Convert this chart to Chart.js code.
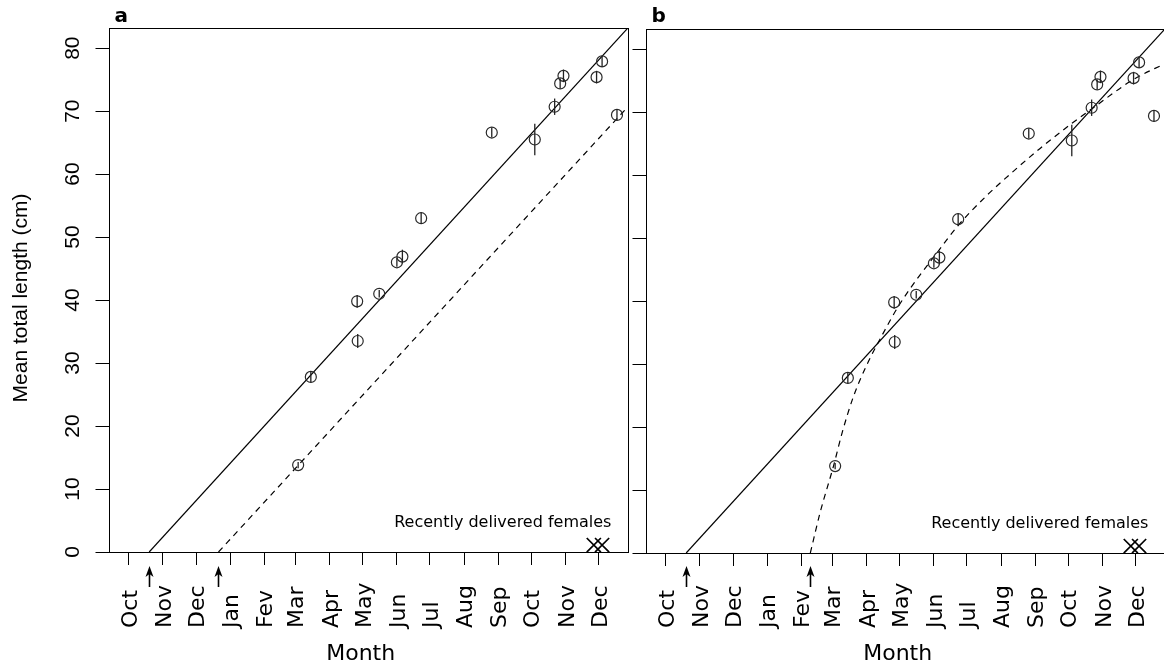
<!DOCTYPE html>
<html>
<head>
<meta charset="utf-8">
<script src="https://cdn.jsdelivr.net/npm/chart.js@4"></script>
<style>
    html, body { margin: 0; padding: 0; background: #fff; overflow: hidden; }
    #wrap { position: relative; width: 1164px; height: 666px; overflow: hidden; }
    canvas { position: absolute; top: 0; }
    #chartA { left: 0; }
    #chartB { left: 537px; }
</style>
</head>
<body>
<div id="wrap">
    <canvas id="chartA" width="640" height="666"></canvas>
    <canvas id="chartB" width="640" height="666"></canvas>
</div>
<script>
// x values are days counted from 1 October
const monthLabels = ["Oct", "Nov", "Dec", "Jan", "Fev", "Mar", "Apr", "May", "Jun", "Jul", "Aug", "Sep", "Oct", "Nov", "Dec"];
const monthDays = [0, 31, 61, 92, 123, 151, 182, 212, 243, 273, 304, 335, 365, 396, 426];
const yTicks = [0, 10, 20, 30, 40, 50, 60, 70, 80];

// mean total length of the samples (cm) and half error bar
const sampleDays = [153.5, 165, 207, 207.5, 227, 243, 248, 265, 329, 368, 386, 391, 394, 424, 429, 442.5];
const meanLength = [13.8, 27.8, 39.8, 33.5, 41.0, 46.0, 46.9, 53.0, 66.6, 65.5, 70.7, 74.4, 75.6, 75.4, 77.9, 69.4];
const lengthErr = [0.5, 0.9, 1.0, 1.1, 0.6, 0.7, 1.1, 0.9, 0.8, 2.5, 1.3, 0.8, 1.0, 1.0, 0.9, 0.9];

// recently delivered females
const deliveredDays = [421.5, 429];
const deliveredLength = [1.1, 1.1];

// fitted growth lines
const linearDays = [18.5, 452.4];
const linearLength = [0, 83.2];
const lateLinearDays = [81.3, 452.4];
const lateLinearLength = [0, 70.7];
const curveDays = [131, 140, 152, 160, 170, 182, 194, 212, 249, 265, 290, 315, 339, 368, 386, 424, 452.4];
const curveLength = [0, 6.5, 13.8, 19.2, 24.8, 29.8, 33.9, 39.5, 48.4, 52.0, 56.6, 60.6, 64.2, 68.2, 70.5, 75.2, 77.7];

// birth estimates (arrows under the axis)
const arrowDaysA = [18.5, 81.3];
const arrowDaysB = [18.5, 131];

const AXIS_W = 108.5;
const PLOT_W = 519.4;
const CANVAS_W = 640;
const CANVAS_H = 666;

function toPoints(xs, ys) {
    return xs.map((x, i) => ({ x: x, y: ys[i] }));
}

function buildDatasets(dashedDays, dashedLength) {
    return [
        {
            data: toPoints(sampleDays, meanLength),
            pointStyle: "circle",
            pointRadius: 5.5,
            borderColor: "#2a2a2a",
            backgroundColor: "rgba(0,0,0,0)",
            borderWidth: 1.2,
        },
        {
            data: toPoints(deliveredDays, deliveredLength),
            pointStyle: "crossRot",
            pointRadius: 10,
            borderColor: "#000",
            borderWidth: 1.7,
        },
        {
            data: toPoints(linearDays, linearLength),
            showLine: true,
            pointRadius: 0,
            borderColor: "#000",
            borderWidth: 1.2,
        },
        {
            data: toPoints(dashedDays, dashedLength),
            showLine: true,
            pointRadius: 0,
            borderColor: "#000",
            borderWidth: 1.2,
            borderDash: [6, 5],
            cubicInterpolationMode: "monotone",
        },
    ];
}

function panelPlugin(letter, arrowDays, withLabels) {
    return {
        id: "panel" + letter,
        afterDatasetsDraw(chart) {
            // error bars
            const ctx = chart.ctx;
            const xs = chart.scales.x;
            const ys = chart.scales.y;
            ctx.save();
            ctx.strokeStyle = "#222";
            ctx.lineWidth = 1.3;
            sampleDays.forEach((d, i) => {
                const px = xs.getPixelForValue(d);
                ctx.beginPath();
                ctx.moveTo(px, ys.getPixelForValue(meanLength[i] - lengthErr[i]));
                ctx.lineTo(px, ys.getPixelForValue(meanLength[i] + lengthErr[i]));
                ctx.stroke();
            });
            ctx.restore();
        },
        afterDraw(chart) {
            const ctx = chart.ctx;
            const area = chart.chartArea;
            const xs = chart.scales.x;
            const ys = chart.scales.y;
            ctx.save();

            // frame
            ctx.strokeStyle = "#000";
            ctx.lineWidth = 1;
            ctx.strokeRect(Math.round(area.left) + 0.5, Math.round(area.top) + 0.5,
                Math.round(area.right - area.left), Math.round(area.bottom - area.top));

            ctx.fillStyle = "#000";

            // month labels, rotated
            ctx.font = '22px "DejaVu Sans"';
            ctx.textAlign = "left";
            ctx.textBaseline = "alphabetic";
            monthLabels.forEach((lab, i) => {
                const px = xs.getPixelForValue(monthDays[i]);
                ctx.save();
                ctx.translate(px + 8, 628);
                ctx.rotate(-Math.PI / 2);
                ctx.fillText(lab, 0, 0);
                ctx.restore();
            });

            // axis title
            ctx.textAlign = "center";
            ctx.fillText("Month", (area.left + area.right) / 2 - 7.5, 660);

            // arrows
            ctx.lineWidth = 1.6;
            arrowDays.forEach((d) => {
                const px = Math.round(xs.getPixelForValue(d)) + 0.5;
                ctx.beginPath();
                ctx.moveTo(px, 587);
                ctx.lineTo(px, 572);
                ctx.stroke();
                ctx.beginPath();
                ctx.moveTo(px, 566);
                ctx.lineTo(px - 4, 577);
                ctx.lineTo(px, 574);
                ctx.lineTo(px + 4, 577);
                ctx.closePath();
                ctx.fill();
            });

            // note
            ctx.font = '16px "DejaVu Sans"';
            ctx.textBaseline = "middle";
            ctx.fillText("Recently delivered females", xs.getPixelForValue(339), ys.getPixelForValue(4.6));

            // panel letter
            ctx.font = 'bold 20px "DejaVu Sans"';
            ctx.textAlign = "left";
            ctx.textBaseline = "alphabetic";
            ctx.fillText(letter, area.left + 6, 22);

            if (withLabels) {
                ctx.font = '21px "Liberation Sans"';
                ctx.textAlign = "center";
                yTicks.forEach((v) => {
                    ctx.save();
                    ctx.translate(78.5, ys.getPixelForValue(v));
                    ctx.rotate(-Math.PI / 2);
                    ctx.fillText(String(v), 0, 0);
                    ctx.restore();
                });
                ctx.save();
                ctx.translate(27, 298);
                ctx.rotate(-Math.PI / 2);
                ctx.fillText("Mean total length (cm)", 0, 0);
                ctx.restore();
            }
            ctx.restore();
        },
    };
}

function makePanel(canvasId, letter, top, bottom, datasets, arrowDays, withLabels) {
    const ctx = document.getElementById(canvasId).getContext("2d");
    return new Chart(ctx, {
        type: "scatter",
        data: { datasets: datasets },
        options: {
            responsive: false,
            animation: false,
            events: [],
            layout: {
                padding: { top: top, right: CANVAS_W - AXIS_W - PLOT_W, left: 0, bottom: 0 },
            },
            plugins: {
                legend: { display: false },
                tooltip: { enabled: false },
            },
            scales: {
                x: {
                    type: "linear",
                    min: -18.4,
                    max: 452.4,
                    afterBuildTicks: (s) => {
                        s.ticks = monthDays.map((v) => ({ value: v }));
                    },
                    afterFit: (s) => {
                        s.height = CANVAS_H - bottom;
                    },
                    ticks: { display: false },
                    grid: { drawOnChartArea: false, drawTicks: true, tickLength: 13, color: "#000", tickColor: "#000", lineWidth: 1 },
                    border: { display: false },
                },
                y: {
                    type: "linear",
                    min: 0,
                    max: 83.2,
                    afterBuildTicks: (s) => {
                        s.ticks = yTicks.map((v) => ({ value: v }));
                    },
                    afterFit: (s) => {
                        s.width = AXIS_W;
                    },
                    ticks: { display: false },
                    grid: { drawOnChartArea: false, drawTicks: true, tickLength: 13, color: "#000", tickColor: "#000", lineWidth: 1 },
                    border: { display: false },
                },
            },
        },
        plugins: [panelPlugin(letter, arrowDays, withLabels)],
    });
}

makePanel("chartA", "a", 28, 552, buildDatasets(lateLinearDays, lateLinearLength), arrowDaysA, true);
makePanel("chartB", "b", 29, 553, buildDatasets(curveDays, curveLength), arrowDaysB, false);
</script>
</body>
</html>
